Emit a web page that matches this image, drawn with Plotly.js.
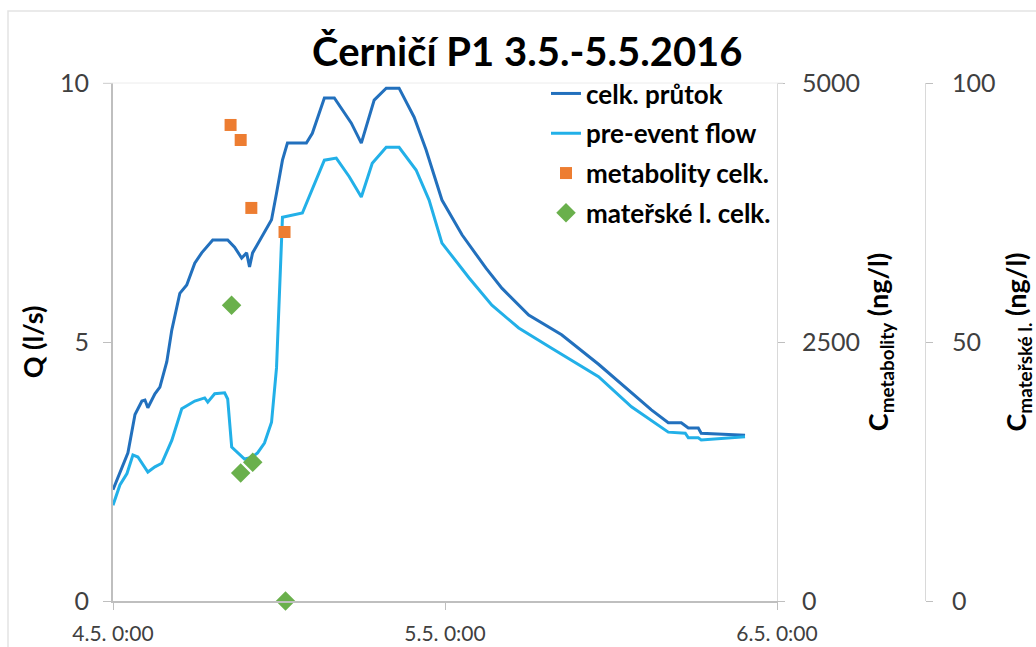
<!DOCTYPE html>
<html>
<head>
<meta charset="utf-8">
<script src="https://cdn.plot.ly/plotly-3.0.1.min.js"></script>
<style>
  html, body { margin: 0; padding: 0; background: #ffffff; }
  #chart { width: 1036px; height: 647px; }
</style>
</head>
<body>
<div id="chart"></div>
<script>
// ---- data (hours after 4.5.2016 0:00) ----
const hoursTotal = [0, 0.65, 1.08, 1.59, 2.09, 2.31, 2.52, 3.03, 3.39, 3.89, 4.25, 4.83, 5.33, 5.91, 6.41, 7.21, 8.29, 8.79, 9.30, 9.66, 9.87, 10.09, 10.74, 11.46, 11.82, 12.25, 12.61, 13.98, 14.41, 15.28, 16.0, 17.22, 17.95, 18.88, 19.75, 20.68, 21.77, 22.63, 23.78, 25.23, 26.95, 28.11, 30.05, 32.43, 35.1, 37.48, 38.92, 40.14, 41.08, 41.59, 42.31, 42.52, 45.69];
const qTotal = [2.15, 2.59, 2.86, 3.6, 3.86, 3.88, 3.73, 4.0, 4.13, 4.62, 5.23, 5.94, 6.1, 6.52, 6.72, 6.97, 6.97, 6.83, 6.62, 6.72, 6.45, 6.72, 7.03, 7.36, 7.87, 8.51, 8.84, 8.84, 9.03, 9.71, 9.71, 9.23, 8.84, 9.67, 9.9, 9.9, 9.34, 8.71, 7.74, 7.07, 6.43, 6.04, 5.52, 5.14, 4.57, 4.02, 3.69, 3.44, 3.44, 3.34, 3.34, 3.24, 3.2];

const hoursPre = [0, 0.5, 1.01, 1.44, 1.80, 2.52, 3.03, 3.53, 4.25, 4.97, 5.91, 6.63, 6.85, 7.35, 8.07, 8.29, 8.58, 9.01, 9.51, 10.02, 10.45, 10.95, 11.46, 11.82, 12.04, 12.25, 13.69, 15.28, 16.14, 17.08, 17.95, 18.74, 19.75, 20.68, 21.91, 22.85, 23.78, 25.73, 27.39, 29.33, 31.71, 35.1, 37.48, 38.92, 40.14, 41.37, 41.59, 42.31, 42.52, 45.69];
const qPre = [1.85, 2.24, 2.46, 2.82, 2.78, 2.49, 2.59, 2.66, 3.1, 3.71, 3.86, 3.92, 3.84, 4.0, 4.02, 3.9, 2.97, 2.86, 2.74, 2.77, 2.86, 3.05, 3.45, 4.5, 6.06, 7.41, 7.49, 8.51, 8.55, 8.19, 7.8, 8.45, 8.76, 8.76, 8.32, 7.74, 6.91, 6.24, 5.71, 5.27, 4.88, 4.33, 3.75, 3.49, 3.26, 3.24, 3.15, 3.15, 3.11, 3.17];

const hoursMetab = [8.5, 9.23, 10.0, 12.4];
const cMetab = [4595, 4450, 3794, 3562];

const hoursParent = [8.57, 9.23, 10.1, 12.47];
const cParent = [57.1, 24.7, 26.8, 0];

const xTickVals = ['2016-05-04 00:00', '2016-05-05 00:00', '2016-05-06 00:00'];
const xTickText = ['4.5. 0:00', '5.5. 0:00', '6.5. 0:00'];
const qTicks = [0, 5, 10];
const metabTicks = [0, 2500, 5000];
const parentTicks = [0, 50, 100];

const seriesNames = ['celk. průtok', 'pre-event flow', 'metabolity celk.', 'mateřské l. celk.'];

// ---- helpers ----
const start = Date.UTC(2016, 4, 4, 0, 0);
function toDate(h) {
  const d = new Date(start + h * 3600 * 1000);
  const p = n => String(n).padStart(2, '0');
  return d.getUTCFullYear() + '-' + p(d.getUTCMonth() + 1) + '-' + p(d.getUTCDate()) + ' ' +
         p(d.getUTCHours()) + ':' + p(d.getUTCMinutes()) + ':' + p(d.getUTCSeconds());
}

const FONT = 'Lato, "Open Sans", sans-serif';
const AX = '#bfbfbf';
const TXT = '#404040';
const DOM = 664 / 812;
const PW = 812, PH = 518;

const traces = [
  {
    x: hoursTotal.map(toDate), y: qTotal, name: seriesNames[0], type: 'scatter', mode: 'lines',
    line: { color: '#2270bd', width: 3 }, yaxis: 'y', legendgroup: 'a'
  },
  {
    x: hoursPre.map(toDate), y: qPre, name: seriesNames[1], type: 'scatter', mode: 'lines',
    line: { color: '#22b0e8', width: 3 }, yaxis: 'y', legendgroup: 'b'
  },
  {
    x: hoursMetab.map(toDate), y: cMetab, name: seriesNames[2], type: 'scatter', mode: 'markers',
    marker: { color: '#ed7d31', symbol: 'square', size: 12 }, yaxis: 'y2', legendgroup: 'c'
  },
  {
    x: hoursParent.map(toDate), y: cParent, name: seriesNames[3], type: 'scatter', mode: 'markers',
    marker: { color: '#6ab04c', symbol: 'diamond', size: 15 }, yaxis: 'y3', legendgroup: 'd',
    cliponaxis: false
  }
];

const layout = {
  width: 1036, height: 647,
  margin: { l: 113, r: 111, t: 83, b: 46 },
  paper_bgcolor: '#ffffff', plot_bgcolor: '#ffffff',
  font: { family: FONT, color: TXT, size: 22 },
  showlegend: true,
  title: {
    text: '<b>Černičí P1 3.5.-5.5.2016</b>',
    font: { family: FONT, size: 40, color: '#000000' },
    xref: 'container', yref: 'container',
    x: 0.509, xanchor: 'center', y: 0.92, yanchor: 'middle'
  },
  xaxis: {
    type: 'date', domain: [0, DOM],
    range: ['2016-05-04 00:00', '2016-05-06 00:00'],
    tickvals: xTickVals, ticktext: xTickText,
    showline: true, linecolor: AX, linewidth: 1.5,
    ticks: 'outside', ticklen: 7, tickcolor: AX,
    showgrid: false, zeroline: false,
    tickfont: { family: FONT, size: 21, color: TXT },
    ticklabelstandoff: 6
  },
  yaxis: {
    range: [0, 10], tickvals: qTicks,
    showline: true, linecolor: AX, linewidth: 2,
    ticks: 'outside', ticklen: 8, tickcolor: AX,
    showgrid: false, zeroline: false,
    tickfont: { family: FONT, size: 25, color: TXT },
    ticklabelstandoff: 9,
    title: { text: '<b>Q (l/s)</b>', font: { family: FONT, size: 27, color: '#000000' }, standoff: 9 }
  },
  yaxis2: {
    overlaying: 'y', side: 'right', anchor: 'x',
    range: [0, 5000], tickvals: metabTicks,
    showline: true, linecolor: '#d9d9d9', linewidth: 1,
    ticks: 'outside', ticklen: 7, tickcolor: AX,
    showgrid: false, zeroline: false,
    tickfont: { family: FONT, size: 25, color: TXT },
    ticklabelstandoff: 12,
    title: { text: '<b>C<sub>metabolity</sub> (ng/l)</b>', font: { family: FONT, size: 27, color: '#000000' }, standoff: 10 }
  },
  yaxis3: {
    overlaying: 'y', side: 'right', anchor: 'free', position: 1,
    range: [0, 100], tickvals: parentTicks,
    showline: true, linecolor: '#d9d9d9', linewidth: 1,
    ticks: 'outside', ticklen: 7, tickcolor: AX,
    showgrid: false, zeroline: false,
    tickfont: { family: FONT, size: 25, color: TXT },
    ticklabelstandoff: 14,
    title: { text: '<b>C<sub>mateřské l.</sub> (ng/l)</b>', font: { family: FONT, size: 27, color: '#000000' }, standoff: 18 }
  },
  legend: {
    x: (546 - 113) / PW, xanchor: 'left', y: 1.025, yanchor: 'top',
    bgcolor: 'rgba(255,255,255,0)',
    font: { family: FONT, size: 26, color: '#000000', weight: 'bold' },
    tracegroupgap: 3, itemwidth: 30
  },
  shapes: [
    { type: 'line', xref: 'paper', yref: 'paper', x0: -10 / PW, x1: DOM + 6 / PW, y0: 1, y1: 1,
      line: { color: '#ececec', width: 1 } },
    { type: 'rect', xref: 'paper', yref: 'paper',
      x0: (8 - 113) / PW, x1: (1050 - 113) / PW, y0: (601 - 660) / PH, y1: (601 - 11) / PH,
      line: { color: '#e3e3e3', width: 1.5 }, fillcolor: 'rgba(0,0,0,0)', layer: 'below' }
  ]
};

Plotly.newPlot('chart', traces, layout, { staticPlot: true, displayModeBar: false });
</script>
</body>
</html>
